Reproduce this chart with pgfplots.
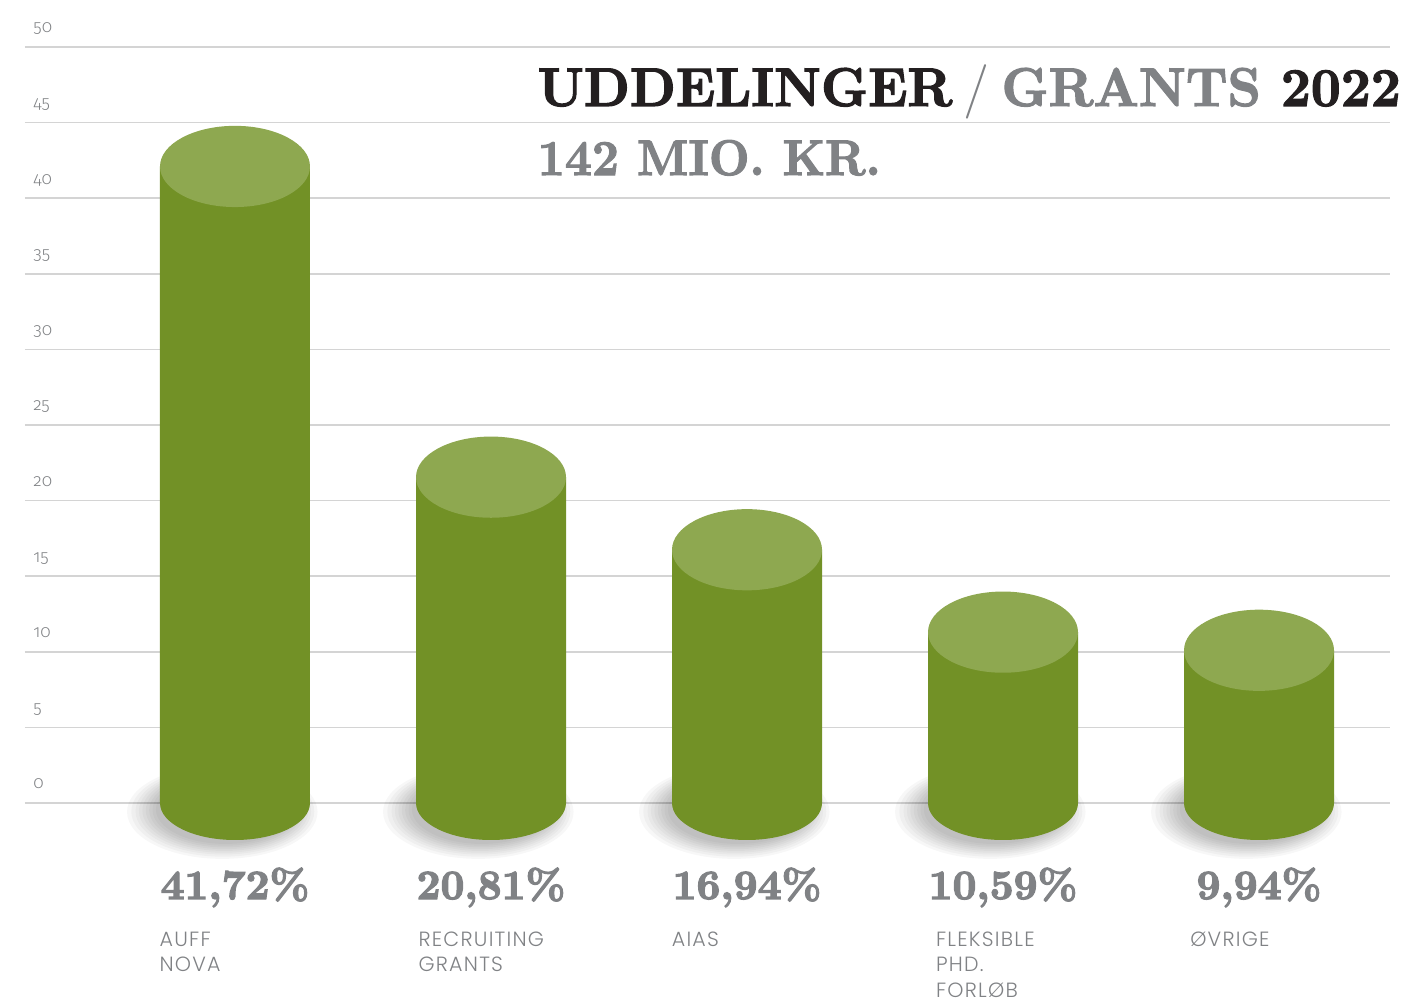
\documentclass[border=0pt]{standalone}
\usepackage{pgfplots}
\pgfplotsset{compat=1.18}
\usepackage{fontspec}
\usepackage{graphicx}
\newfontfamily\catfont[LetterSpace=6]{Poppins Light}
\newfontfamily\tickfont[Numbers=OldStyle]{Fira Sans Light}
\newfontface\heavy{lmroman10-bold}[Extension=.otf, FakeBold=2.2]
\newfontface\heavier{lmroman10-bold}[Extension=.otf, FakeBold=3]
\definecolor{bodygreen}{RGB}{114,145,38}
\definecolor{topgreen}{RGB}{142,168,80}
\definecolor{txtgray}{RGB}{128,130,133}
\definecolor{titleblack}{RGB}{35,31,32}
\definecolor{gridgray}{RGB}{212,212,212}
\pgfdeclareplotmark{celltop}{\pgfpathellipse{\pgfpointorigin}{\pgfqpoint{37.5pt}{0pt}}{\pgfqpoint{0pt}{20.3pt}}\pgfusepathqfill}
\pgfdeclareplotmark{cellbot}{\pgfpathellipse{\pgfpointorigin}{\pgfqpoint{37.5pt}{0pt}}{\pgfqpoint{0pt}{18.5pt}}\pgfusepathqfill}
\tikzset{pct/.style={anchor=base, inner sep=0pt, text=txtgray, font=\heavier\fontsize{20.8}{24}\selectfont},
  cat/.style={anchor=base west, inner sep=0pt, text=txtgray, font=\catfont\fontsize{10.3}{12.8}\selectfont},
  shad/.style={only marks, mark=cellbot, mark options={fill=black, draw=none, fill opacity=0.032, scale=#1, xshift=-5pt, yshift=-3.5pt}}}
\begin{document}
\begin{tikzpicture}
\begin{axis}[name=ax, scale only axis, width=682.5pt, height=378pt,
  xmin=-0.8203, xmax=4.5117, ymin=0, ymax=50,
  ytick={0,5,...,50}, xtick=\empty,
  ymajorgrids, grid style={gridgray, line width=0.75pt},
  axis line style={draw=none}, major tick length=0pt,
  clip marker paths=true,
  /pgf/number format/assume math mode=true,
  yticklabel style={anchor=base west, inner sep=0pt, xshift=4pt, yshift=7pt,
    font=\tickfont\fontsize{8.7}{9}\selectfont, text=txtgray},
  clip=false]
% shadows
\addplot[shad=1.27] coordinates {(0,0) (1,0) (2,0) (3,0) (4,0)};
\addplot[shad=1.22] coordinates {(0,0) (1,0) (2,0) (3,0) (4,0)};
\addplot[shad=1.17] coordinates {(0,0) (1,0) (2,0) (3,0) (4,0)};
\addplot[shad=1.13] coordinates {(0,0) (1,0) (2,0) (3,0) (4,0)};
\addplot[shad=1.09] coordinates {(0,0) (1,0) (2,0) (3,0) (4,0)};
\addplot[shad=1.05] coordinates {(0,0) (1,0) (2,0) (3,0) (4,0)};
\addplot[shad=1.01] coordinates {(0,0) (1,0) (2,0) (3,0) (4,0)};
\addplot[shad=0.97] coordinates {(0,0) (1,0) (2,0) (3,0) (4,0)};
\addplot[shad=0.93] coordinates {(0,0) (1,0) (2,0) (3,0) (4,0)};
% cylinder bodies
\addplot[ybar, bar width=75pt, bar shift=0pt, fill=bodygreen, draw=none]
  coordinates {(0,42.1) (1,21.55) (2,16.75) (3,11.3) (4,10.1)};
% bottom ellipses
\addplot[only marks, mark=cellbot, mark options={fill=bodygreen, draw=none}]
  coordinates {(0,0) (1,0) (2,0) (3,0) (4,0)};
% top ellipses
\addplot[only marks, mark=celltop, mark options={fill=topgreen, draw=none}]
  coordinates {(0,42.1) (1,21.55) (2,16.75) (3,11.3) (4,10.1)};
% title
\node[anchor=base west, inner sep=0pt] at (axis cs:1.181,46.1)
  {\resizebox{431.5pt}{19pt}{\heavy\color{titleblack}UDDELINGER\hspace{0.22em}{\normalfont\color{txtgray}\smash{/}}\hspace{0.22em}{\color{txtgray}GRANTS} 2022}};
\node[anchor=base west, inner sep=0pt] at (axis cs:1.181,41.53)
  {\resizebox{171.5pt}{17.5pt}{\heavy\color{txtgray}142 MIO. KR.}};
% percentages
\node[pct] at (axis cs:0,-6.35) {41,72\%};
\node[pct] at (axis cs:1,-6.35) {20,81\%};
\node[pct] at (axis cs:2,-6.35) {16,94\%};
\node[pct] at (axis cs:3,-6.35) {10,59\%};
\node[pct] at (axis cs:4,-6.35) {9,94\%};
% category labels
\node[cat] at (axis cs:-0.296,-9.458) {\begin{tabular}[t]{@{}l@{}}AUFF\\NOVA\end{tabular}};
\node[cat] at (axis cs:0.7155,-9.458) {\begin{tabular}[t]{@{}l@{}}RECRUITING\\GRANTS\end{tabular}};
\node[cat] at (axis cs:1.705,-9.458) {\begin{tabular}[t]{@{}l@{}}AIAS\end{tabular}};
\node[cat] at (axis cs:2.737,-9.458) {\begin{tabular}[t]{@{}l@{}}FLEKSIBLE\\PHD.\\FORLØB\end{tabular}};
\node[cat] at (axis cs:3.730,-9.458) {\begin{tabular}[t]{@{}l@{}}ØVRIGE\end{tabular}};
\end{axis}
\pgfresetboundingbox
\path[use as bounding box] ([xshift=-12.5pt,yshift=-102pt]ax.south west) rectangle ([xshift=8pt,yshift=23.5pt]ax.north east);
\end{tikzpicture}
\end{document}
